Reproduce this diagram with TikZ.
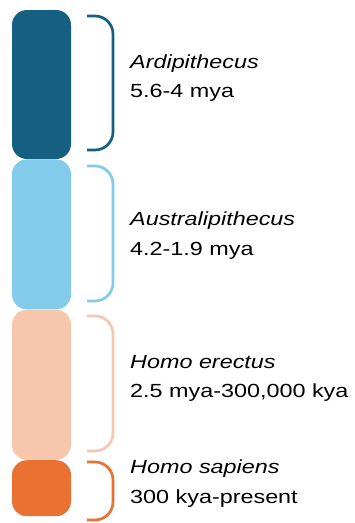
\documentclass[tikz,border=0pt]{standalone}
\usepackage{fontspec}
\setmainfont{Liberation Sans}[FakeStretch=1.23]
\usetikzlibrary{positioning,calc}
\definecolor{ardiblue}{HTML}{156082}
\definecolor{australblue}{HTML}{83CBEB}
\definecolor{erectuspeach}{HTML}{F6C6AD}
\definecolor{sapiensorange}{HTML}{E97132}

\begin{document}
\begin{tikzpicture}[
  x=1pt, y=-1pt,
  era/.style={rounded corners=15pt, minimum width=59pt, inner sep=0pt, fill=#1},
  bracket/.style={draw=#1, line width=2.7pt, rounded corners=18pt},
  lbl/.style={anchor=base west, inner sep=0pt, font=\fontsize{19}{23}\selectfont}
]
\useasboundingbox (0,0) rectangle (355,523);

% Time blocks, stacked top to bottom
\node[era=ardiblue, minimum height=149pt] (ardi) at (41.5,84.5) {};
\node[era=australblue, minimum height=150pt, below=0pt of ardi] (austral) {};
\node[era=erectuspeach, minimum height=150pt, below=0pt of austral] (erectus) {};
\node[era=sapiensorange, minimum height=56pt, below=0pt of erectus] (sapiens) {};

% Brackets beside each block
\draw[bracket=ardiblue] (87,16) -- (113,16) -- (113,150) -- (87,150);
\draw[bracket=australblue] (87,166) -- (113,166) -- (113,301) -- (87,301);
\draw[bracket=erectuspeach] (87,316) -- (113,316) -- (113,451) -- (87,451);
\draw[bracket=sapiensorange] (87,462) -- (113,462) -- (113,520) -- (87,520);

% Labels
\node[lbl] (ardiname) at (130,68) {\itshape Ardipithecus};
\node[lbl] (ardidate) at ([yshift=-29pt]ardiname.base west) {5.6-4 mya};

\node[lbl] (australname) at (130,225) {\itshape Australipithecus};
\node[lbl] (australdate) at ([yshift=-30pt]australname.base west) {4.2-1.9 mya};

\node[lbl] (erectusname) at (130,368) {\itshape Homo erectus};
\node[lbl] (erectusdate) at ([yshift=-29pt]erectusname.base west) {2.5 mya-300,000 kya};

\node[lbl] (sapiensname) at (130,473) {\itshape Homo sapiens};
\node[lbl] (sapiensdate) at ([yshift=-30pt]sapiensname.base west) {300 kya-present};
\end{tikzpicture}
\end{document}
